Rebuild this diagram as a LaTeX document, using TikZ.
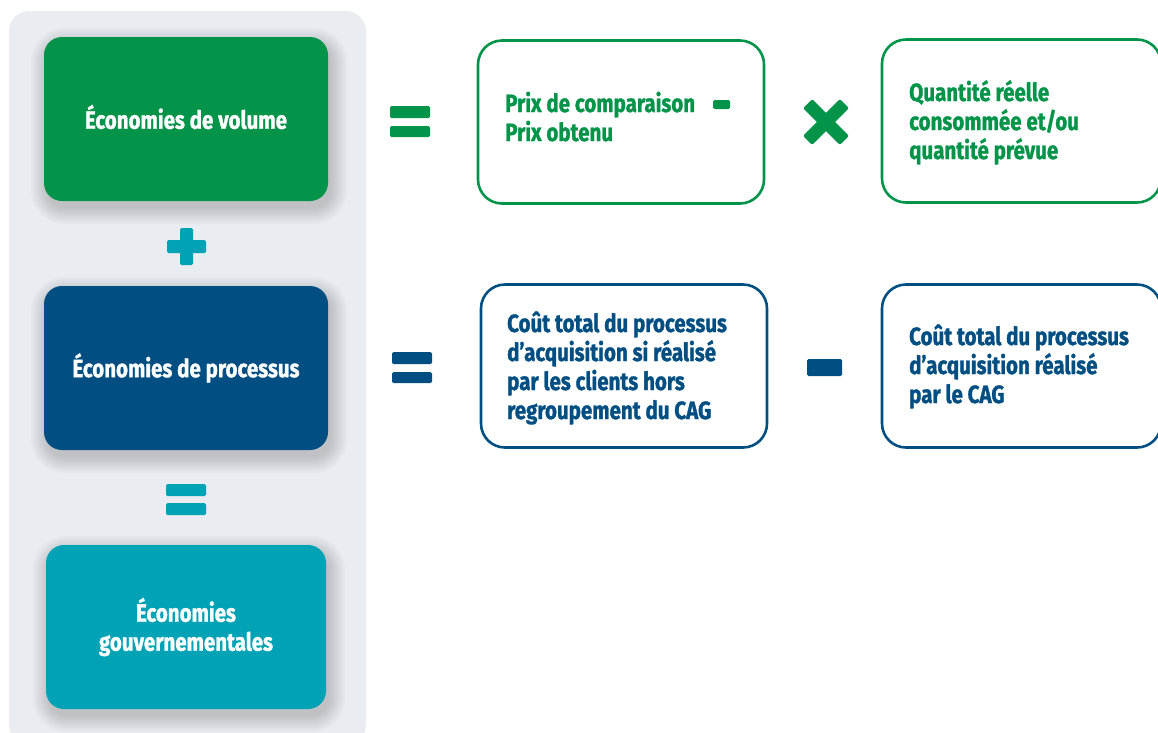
\documentclass[tikz,border=0pt]{standalone}
\usepackage{fontspec}
\newfontfamily\labelfont{Fira Sans}[FakeStretch=0.82, FakeBold=1.2]
\usetikzlibrary{calc}
\definecolor{cagGreen}{RGB}{3,148,74}
\definecolor{cagBlue}{RGB}{0,78,130}
\definecolor{cagTeal}{RGB}{0,163,181}
\definecolor{panelGray}{RGB}{233,236,240}
\pgfdeclarelayer{panel}
\pgfdeclarelayer{shade}
\pgfsetlayers{panel,shade,main}
% left-aligned block of lines, anchored at the first baseline
\newcommand\leftlines[1]{\vtop{\halign{##\hfil\cr#1\crcr}}}
% soft drop shadow under a filled box
\newcommand\dropshadow[1]{%
  \begin{pgfonlayer}{shade}
    \foreach \s in {0,2,...,16} {
      \fill[black, opacity=0.018, rounded corners={(18+\s)*1pt}]
        ([xshift={(3-\s)*1pt}, yshift={(-7+\s)*1pt}]#1.north west) rectangle
        ([xshift={(3+\s)*1pt}, yshift={(-7-\s)*1pt}]#1.south east);
    }
  \end{pgfonlayer}}
\begin{document}
\begin{tikzpicture}[x=1pt, y=-1pt,
  labeltext/.style={font=\labelfont\bfseries\fontsize{25}{29}\selectfont},
  solidbox/.style={labeltext, rounded corners=18pt, minimum width=284pt,
    minimum height=164pt, inner sep=0pt, text=white, align=center},
  outlinebox/.style={rounded corners=24pt, line width=2.6pt,
    minimum height=163pt, inner sep=0pt},
  boxtext/.style={labeltext, inner sep=0pt, anchor=base west}]
\useasboundingbox (0,0) rectangle (1158,732);

% grey column behind the three totals
\begin{pgfonlayer}{panel}
  \fill[panelGray, rounded corners=20pt] (9,11) rectangle (366,745);
\end{pgfonlayer}

% ---- left column: the three kinds of savings
\node[solidbox, fill=cagGreen] (vol) at (186,119) {};
\node[labeltext, text=white] (voltxt) at (186,117) {Économies de volume};
\node[solidbox, fill=cagBlue] (proc) at (186,368) {Économies de processus};
\node[solidbox, fill=cagTeal, minimum width=280pt] (gouv) at (186,627)
  {Économies\\gouvernementales};
\dropshadow{vol}
\dropshadow{proc}
\dropshadow{gouv}

% plus between the first two boxes
\fill[cagTeal, rounded corners=1.5pt] (180,228) rectangle (193,265);
\fill[cagTeal, rounded corners=1.5pt] (167,240) rectangle (206,253);
% equals before the total
\fill[cagTeal, rounded corners=1.5pt] (166,484) rectangle (206,496);
\fill[cagTeal, rounded corners=1.5pt] (166,503) rectangle (206,515);

% ---- first row: volume savings formula
\fill[cagGreen, rounded corners=1.5pt] (390,106) rectangle (430,118);
\fill[cagGreen, rounded corners=1.5pt] (390,126) rectangle (430,137);

\node[outlinebox, draw=cagGreen, minimum width=286pt] (prix) at (621,122) {};
\node[boxtext, text=cagGreen] (prixtxt) at (505,112)
  {\leftlines{Prix de comparaison\cr Prix obtenu}};
\fill[cagGreen, rounded corners=1.5pt] (713,100) rectangle (730,109);

\fill[cagGreen, rounded corners=2pt, rotate around={45:(826,122)}]
  (800,115.5) rectangle (852,128.5);
\fill[cagGreen, rounded corners=2pt, rotate around={-45:(826,122)}]
  (800,115.5) rectangle (852,128.5);

\node[outlinebox, draw=cagGreen, minimum width=279pt] (qte) at (1021.5,121) {};
\node[boxtext, text=cagGreen] (qtetxt) at (909,101)
  {\leftlines{Quantité réelle\cr consommée et/ou\cr quantité prévue}};

% ---- second row: process savings formula
\fill[cagBlue, rounded corners=1.5pt] (392,352) rectangle (432,364);
\fill[cagBlue, rounded corners=1.5pt] (392,372) rectangle (432,383);

\node[outlinebox, draw=cagBlue, minimum width=286pt] (hors) at (624,366) {};
\node[boxtext, text=cagBlue] (horstxt) at (507,332)
  {\leftlines{Coût total du processus\cr d’acquisition si réalisé\cr
    par les clients hors\cr regroupement du CAG}};

\fill[cagBlue, rounded corners=1.5pt] (807,359) rectangle (842,376);

\node[outlinebox, draw=cagBlue, minimum width=279pt] (cag) at (1021.5,366) {};
\node[boxtext, text=cagBlue] (cagtxt) at (909,345)
  {\leftlines{Coût total du processus\cr d’acquisition réalisé\cr par le CAG}};
\end{tikzpicture}
\end{document}
